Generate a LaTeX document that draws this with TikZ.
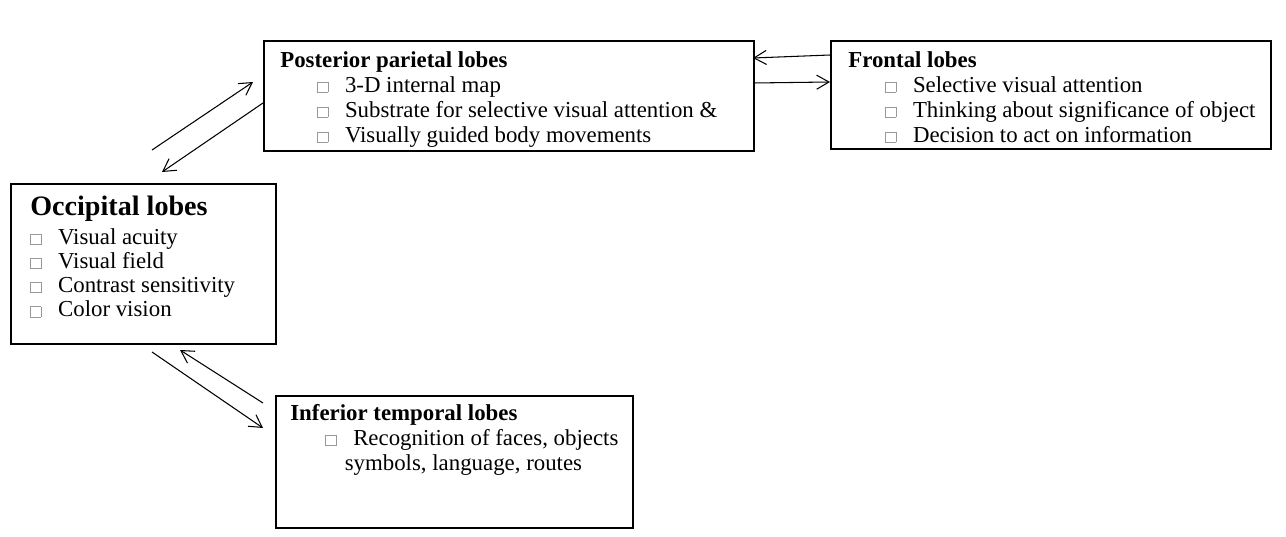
\documentclass[tikz,border=0pt]{standalone}
\usepackage{fontspec}
\setmainfont{Liberation Serif}
\usetikzlibrary{arrows.meta, positioning}
\newcommand{\sqb}{{\color{gray!80}\setlength{\fboxsep}{0pt}\setlength{\fboxrule}{0.4pt}\fbox{\rule{0pt}{5.5pt}\hspace{5.5pt}}}\hspace{9.5pt}}
\tikzset {
  lobe/.style = {draw, very thick, rectangle, anchor=north west, inner sep=0pt},
  txt/.style = {anchor=north west, align=left, inner sep=0pt, font=\fontsize{13}{14.2}\selectfont},
  line/.style = {-{Straight Barb[length=7pt, width=8pt]}, semithick, color=black},
}
\begin{document}
\begin{tikzpicture}[x=0.02cm, y=-0.02cm]
    \useasboundingbox (0,0) rectangle (1286,537);

    \node[lobe, minimum width=490*0.02cm, minimum height=110*0.02cm] (parietal) at (263,40) {};
    \node[lobe, minimum width=440*0.02cm, minimum height=108*0.02cm] (frontal) at (830,40) {};
    \node[lobe, minimum width=265*0.02cm, minimum height=160*0.02cm] (occipital) at (10,183) {};
    \node[lobe, minimum width=357*0.02cm, minimum height=132*0.02cm] (temporal) at (275,395) {};

    \node[txt] (parietaltxt) at (280,51) {\textbf{Posterior parietal lobes}\\
      \hspace*{21pt}\sqb 3-D internal map\\
      \hspace*{21pt}\sqb Substrate for selective visual attention \&\\
      \hspace*{21pt}\sqb Visually guided body movements};
    \node[txt] (frontaltxt) at (848,51) {\textbf{Frontal lobes}\\
      \hspace*{21pt}\sqb Selective visual attention\\
      \hspace*{21pt}\sqb Thinking about significance of object\\
      \hspace*{21pt}\sqb Decision to act on information};
    \node[txt, font=\fontsize{13}{13.7}\selectfont] (occipitaltxt) at (30,196) {{\fontsize{16}{18}\selectfont\textbf{Occipital lobes}}\\[2.5pt]
      \sqb Visual acuity\\
      \sqb Visual field\\
      \sqb Contrast sensitivity\\
      \sqb Color vision};
    \node[txt] (temporaltxt) at (290,404) {\textbf{Inferior temporal lobes}\\
      \hspace*{20pt}\sqb Recognition of faces, objects\\
      \hspace*{31pt}symbols, language, routes};

    % connectors
    \coordinate (pf1) at (830,55);  \coordinate (pf2) at (753,58);
    \coordinate (pf3) at (753,83);  \coordinate (pf4) at (830,82);
    \coordinate (op1) at (152,150); \coordinate (op2) at (253,82);
    \coordinate (op3) at (263,103); \coordinate (op4) at (162,172);
    \coordinate (ot1) at (152,352); \coordinate (ot2) at (263,428);
    \coordinate (ot3) at (263,403); \coordinate (ot4) at (180,350);

    \draw[line] (pf1) -- (pf2);
    \draw[line] (pf3) -- (pf4);
    \draw[line] (op1) -- (op2);
    \draw[line] (op3) -- (op4);
    \draw[line] (ot1) -- (ot2);
    \draw[line] (ot3) -- (ot4);
\end{tikzpicture}
\end{document}
